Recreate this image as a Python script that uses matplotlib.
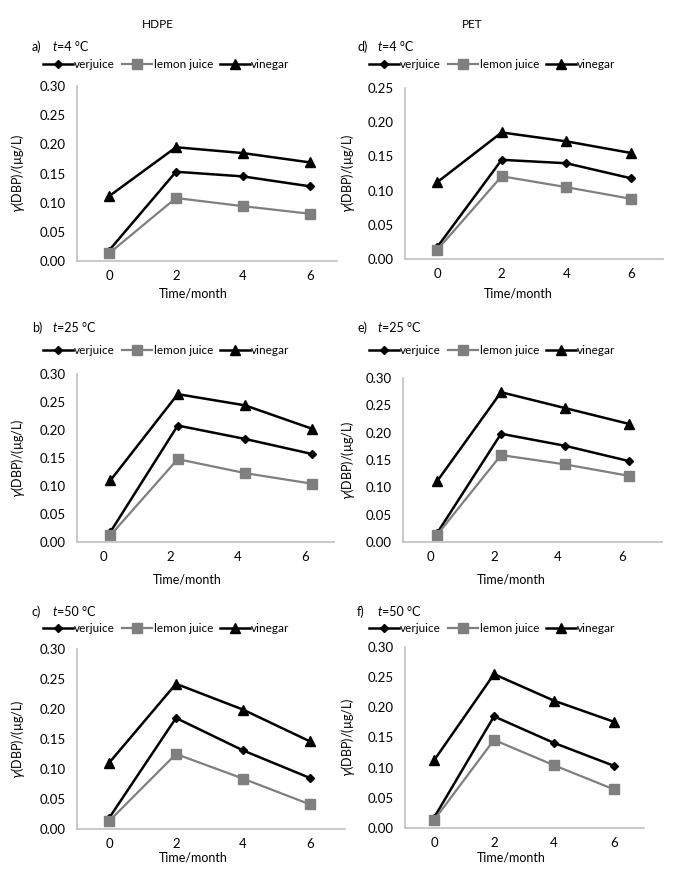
"""Release of DBP from HDPE and PET bottles into three acidic foods,
stored at 4, 25 and 50 C, over six months."""
import matplotlib.pyplot as plt
from matplotlib.lines import Line2D

plt.rcParams['font.family'] = ['Lato', 'DejaVu Sans']
plt.rcParams['font.size'] = 9

W, H = 685, 889  # figure size in pixels

time_months = [0, 2, 4, 6]
series_names = ['verjuice', 'lemon juice', 'vinegar']
column_titles = ['HDPE', 'PET']
temperatures = ['4', '25', '50']

# HDPE
hdpe_4_verjuice = [0.018, 0.153, 0.145, 0.128]
hdpe_4_lemon = [0.013, 0.108, 0.094, 0.081]
hdpe_4_vinegar = [0.111, 0.195, 0.185, 0.169]

hdpe_25_verjuice = [0.018, 0.208, 0.184, 0.157]
hdpe_25_lemon = [0.012, 0.148, 0.123, 0.104]
hdpe_25_vinegar = [0.110, 0.264, 0.244, 0.202]

hdpe_50_verjuice = [0.018, 0.185, 0.131, 0.085]
hdpe_50_lemon = [0.013, 0.125, 0.084, 0.041]
hdpe_50_vinegar = [0.110, 0.242, 0.199, 0.146]

# PET
pet_4_verjuice = [0.017, 0.145, 0.140, 0.118]
pet_4_lemon = [0.013, 0.121, 0.105, 0.088]
pet_4_vinegar = [0.112, 0.185, 0.172, 0.155]

pet_25_verjuice = [0.016, 0.198, 0.176, 0.148]
pet_25_lemon = [0.013, 0.159, 0.142, 0.121]
pet_25_vinegar = [0.111, 0.274, 0.245, 0.216]

pet_50_verjuice = [0.017, 0.185, 0.141, 0.103]
pet_50_lemon = [0.013, 0.146, 0.104, 0.064]
pet_50_vinegar = [0.112, 0.255, 0.211, 0.176]

panel_letters = ['a)', 'b)', 'c)', 'd)', 'e)', 'f)']
panel_data = [
    [hdpe_4_verjuice, hdpe_4_lemon, hdpe_4_vinegar],
    [hdpe_25_verjuice, hdpe_25_lemon, hdpe_25_vinegar],
    [hdpe_50_verjuice, hdpe_50_lemon, hdpe_50_vinegar],
    [pet_4_verjuice, pet_4_lemon, pet_4_vinegar],
    [pet_25_verjuice, pet_25_lemon, pet_25_vinegar],
    [pet_50_verjuice, pet_50_lemon, pet_50_vinegar],
]
panel_ymax = [0.30, 0.30, 0.30, 0.25, 0.30, 0.30]

# pixel layout: left, right, top, bottom of plot area, x of tick 0 and tick 6,
# x shift of the markers, y of the "a) t=.." line and of the legend row
layout = [
    (77, 337, 86, 261, 109, 310, 0.0, 47, 65),
    (77, 334, 374, 542, 103, 305, 0.22, 328, 351),
    (77, 345, 649, 829, 109, 310, 0.0, 612, 629),
    (405, 663, 88, 259, 437, 631, 0.0, 47, 65),
    (403, 662, 378, 542, 430, 622, 0.22, 328, 351),
    (405, 644, 647, 828, 434, 614, 0.0, 612, 629),
]
xlabel_y = [293, 580, 858, 293, 580, 858]
ylabel_x = [18, 18, 18, 348, 348, 348]

styles = [
    dict(color='black', marker='D', markersize=4.5, linewidth=1.8),
    dict(color='#7f7f7f', marker='s', markersize=6.5, linewidth=1.6),
    dict(color='black', marker='^', markersize=7, linewidth=1.8),
]


def px(x, y):
    return x / W, 1 - y / H


fig = plt.figure(figsize=(W / 100, H / 100), dpi=100)

for col, title in enumerate(column_titles):
    fig.text(*px(158 if col == 0 else 472, 25), title, ha='center', va='center', fontsize=8.5)

for i in range(6):
    left, right, top, bottom, t0, t6, shift, lab_y, leg_y = layout[i]
    ax = fig.add_axes([left / W, 1 - bottom / H, (right - left) / W, (bottom - top) / H])
    ppu = (t6 - t0) / 6
    xs = [t + shift for t in time_months]
    for name, values, st in zip(series_names, panel_data[i], styles):
        ax.plot(xs, values, label=name, markeredgecolor=st['color'], **st)

    ax.set_xlim((left - t0) / ppu, (right - t0) / ppu)
    ax.set_ylim(0, panel_ymax[i])
    ax.set_xticks(time_months)
    ax.set_yticks([k * 0.05 for k in range(int(round(panel_ymax[i] / 0.05)) + 1)])
    ax.yaxis.set_major_formatter(plt.FormatStrFormatter('%.2f'))
    ax.tick_params(length=0, labelsize=9.5)
    ax.tick_params(axis='y', pad=8)
    ax.tick_params(axis='x', pad=6.5)
    for side in ['top', 'right']:
        ax.spines[side].set_visible(False)
    for side in ['left', 'bottom']:
        ax.spines[side].set_color('#c0c0c0')
        ax.spines[side].set_linewidth(1.2)
    ax.patch.set_alpha(0)

    # axis titles
    fig.text(*px(t0 + 2 * ppu + 17, xlabel_y[i]), 'Time/month', ha='center', va='center', fontsize=9)
    fig.text(*px(ylabel_x[i], (top + bottom) / 2), r'$\gamma$(DBP)/(µg/L)',
             rotation=90, ha='center', va='center', fontsize=9)

    # panel label and temperature
    lx = 32 if i < 3 else 357
    fig.text(*px(lx, lab_y), panel_letters[i], ha='left', va='center', fontsize=9)
    fig.text(*px(lx + 21, lab_y), 't', ha='left', va='center', fontsize=9, style='italic')
    fig.text(*px(lx + 25, lab_y), '=' + temperatures[i % 3] + ' °C', ha='left', va='center', fontsize=9)

    # legend above the plot
    handles = [Line2D([], [], markeredgecolor=st['color'], **st) for st in styles]
    leg_x = 43 if i < 3 else 369
    ax.legend(handles, series_names, ncol=3, frameon=False, loc='center left',
              bbox_to_anchor=px(leg_x, leg_y), bbox_transform=fig.transFigure,
              borderpad=0, borderaxespad=0, handlelength=2.5, handletextpad=0.15,
              columnspacing=0.6, fontsize=8.5)

plt.savefig('out.png', dpi=100)
